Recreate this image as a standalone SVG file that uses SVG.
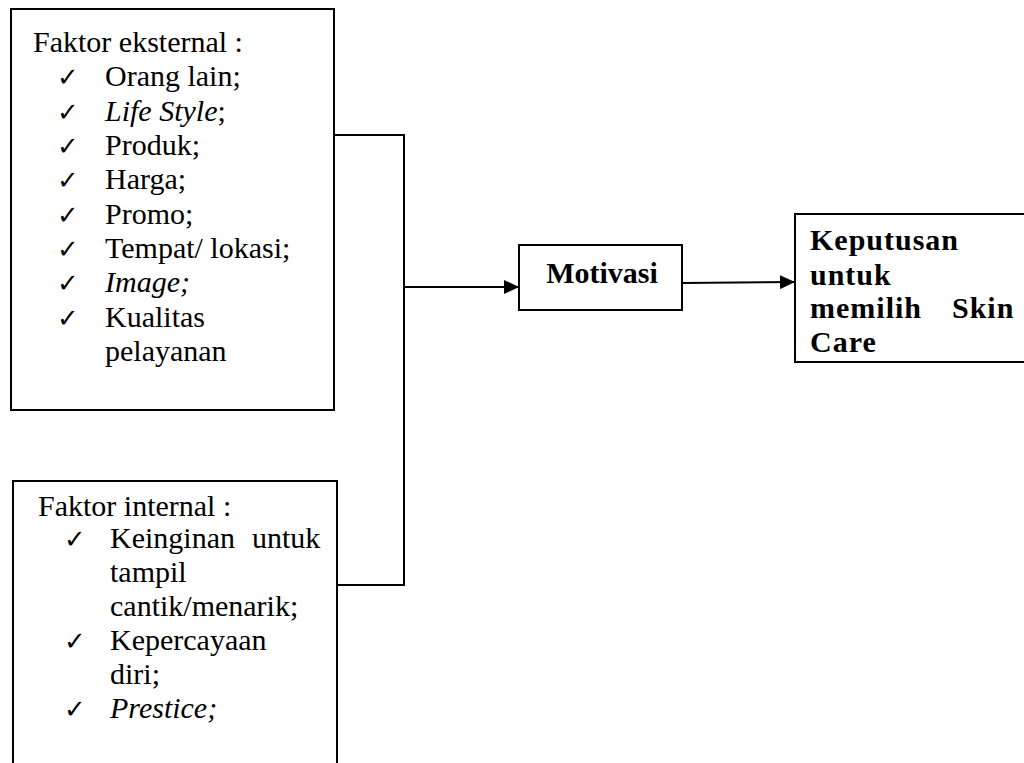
<svg xmlns="http://www.w3.org/2000/svg" width="1024" height="763" viewBox="0 0 1024 763">
<style>
.box{fill:#fff;stroke:#000;stroke-width:2}
.t{font-family:'Liberation Serif',Tinos,'Times New Roman',Times,'DejaVu Serif',serif;font-size:30px;fill:#000}
.b{font-family:'Liberation Serif',Tinos,'Times New Roman',Times,'DejaVu Serif',serif;font-size:30px;font-weight:bold;fill:#000}
.ls{letter-spacing:1px}
.ck{font-family:'DejaVu Sans',sans-serif;font-size:26px;fill:#000}
.i{font-style:italic}
.ln{fill:none;stroke:#000;stroke-width:2}
</style>
<defs>
<marker id="arr" markerWidth="16" markerHeight="14" refX="15" refY="7" orient="auto" markerUnits="userSpaceOnUse">
<path d="M0,0 L15,7 L0,14 Z" fill="#000"/>
</marker>
</defs>
<rect width="1024" height="763" fill="#fff"/>
<g id="connectors">
<polyline class="ln" points="334,135 404,135 404,585 338,585"/>
<line class="ln" x1="404" y1="287" x2="519" y2="287" marker-end="url(#arr)"/>
<line class="ln" x1="682" y1="283" x2="795" y2="282" marker-end="url(#arr)"/>
</g>
<g id="eksternal">
<rect class="box" x="11" y="9" width="323" height="401"/>
<text class="t" x="33" y="52">Faktor eksternal :</text>
<text class="ck" x="57" y="86">✓</text><text class="t" x="105" y="86">Orang lain;</text>
<text class="ck" x="57" y="121">✓</text><text class="t" x="105" y="121"><tspan class="i">Life Style</tspan>;</text>
<text class="ck" x="57" y="155">✓</text><text class="t" x="105" y="155">Produk;</text>
<text class="ck" x="57" y="189">✓</text><text class="t" x="105" y="189">Harga;</text>
<text class="ck" x="57" y="224">✓</text><text class="t" x="105" y="224">Promo;</text>
<text class="ck" x="57" y="258">✓</text><text class="t" x="105" y="258">Tempat/ lokasi;</text>
<text class="ck" x="57" y="292">✓</text><text class="t i" x="105" y="292">Image;</text>
<text class="ck" x="57" y="327">✓</text><text class="t" x="105" y="327">Kualitas</text>
<text class="t" x="105" y="361">pelayanan</text>
</g>
<g id="internal">
<rect class="box" x="13" y="481" width="324" height="290"/>
<text class="t" x="38" y="516">Faktor internal :</text>
<text class="ck" x="64" y="548">✓</text><text class="t" y="548"><tspan x="110">Keinginan</tspan><tspan x="252">untuk</tspan></text>
<text class="t" x="110" y="582">tampil</text>
<text class="t" x="110" y="616">cantik/menarik;</text>
<text class="ck" x="64" y="650">✓</text><text class="t" x="110" y="650">Kepercayaan</text>
<text class="t" x="110" y="684">diri;</text>
<text class="ck" x="64" y="718">✓</text><text class="t i" x="110" y="718">Prestice;</text>
</g>
<g id="motivasi">
<rect class="box" x="519" y="245" width="163" height="65"/>
<text class="b" x="602" y="283" text-anchor="middle">Motivasi</text>
</g>
<g id="keputusan">
<rect class="box" x="795" y="214" width="240" height="148"/>
<text class="b ls" x="810" y="250">Keputusan</text>
<text class="b ls" x="810" y="285">untuk</text>
<text class="b ls" y="318"><tspan x="810">memilih</tspan><tspan x="952">Skin</tspan></text>
<text class="b ls" x="810" y="352">Care</text>
</g>
</svg>
